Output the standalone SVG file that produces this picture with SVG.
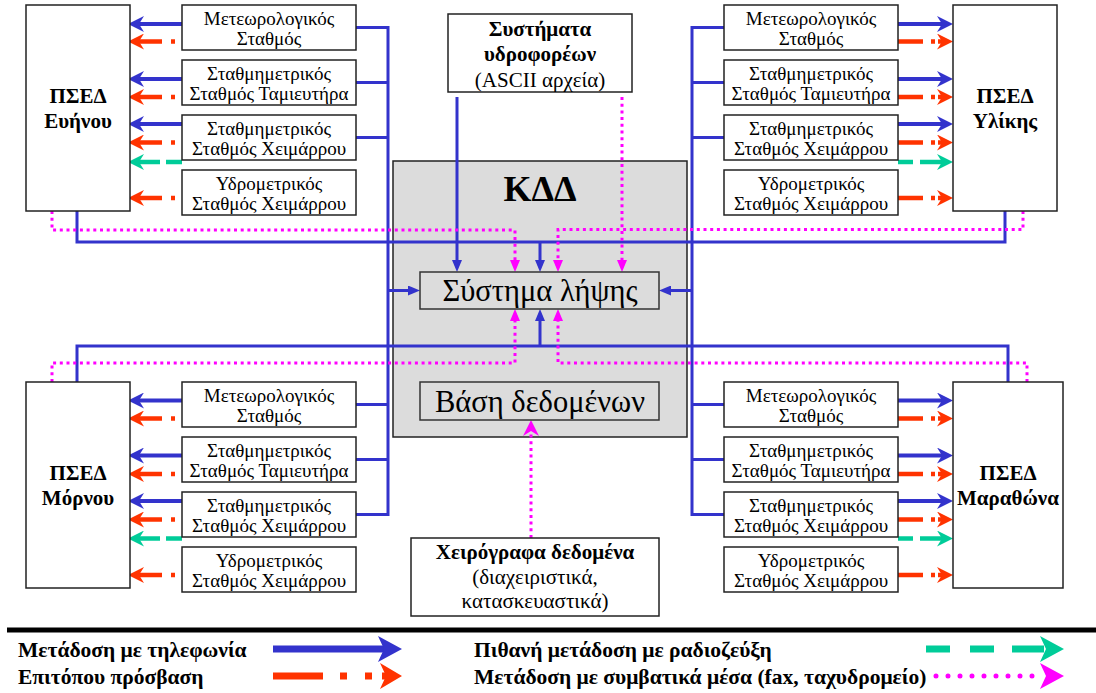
<svg xmlns="http://www.w3.org/2000/svg" width="1096" height="693" viewBox="0 0 1096 693">
<style>
.box{fill:#fff;stroke:#222;stroke-width:1.5}
.kdd{fill:#dcdcdc;stroke:#222;stroke-width:1.5}
.inner{fill:none;stroke:#333;stroke-width:1.5}
.st{font-family:"Liberation Serif","Times New Roman",serif;font-size:19px;fill:#000;text-anchor:middle}
.sx{font-family:"Liberation Serif","Times New Roman",serif;font-size:21px;fill:#000;text-anchor:middle}
.sxb{font-family:"Liberation Serif","Times New Roman",serif;font-size:21px;font-weight:bold;fill:#000;text-anchor:middle}
.ttl{font-family:"Liberation Serif","Times New Roman",serif;font-size:21px;font-weight:bold;fill:#000;text-anchor:middle}
.big{font-family:"Liberation Serif","Times New Roman",serif;font-size:30.5px;fill:#000;text-anchor:middle}
.lg{font-family:"Liberation Serif","Times New Roman",serif;font-size:21.5px;font-weight:bold;fill:#000}
.b{fill:none;stroke:#3333cc;stroke-width:4}
.bus{fill:none;stroke:#3333cc;stroke-width:3}
.r{fill:none;stroke:#ff3300;stroke-width:4.5}
.g{fill:none;stroke:#00cc99;stroke-width:4.5}
.m{fill:none;stroke:#ff00ff;stroke-width:3;stroke-dasharray:3 3.7}
</style>
<defs>
<marker id="hb" viewBox="0 0 16 16" refX="8" refY="8" markerWidth="16" markerHeight="16" markerUnits="userSpaceOnUse" orient="auto"><path d="M0,0 L16,8 L0,16 L5,8 z" fill="#3333cc"/></marker>
<marker id="hr" viewBox="0 0 16 16" refX="8" refY="8" markerWidth="16" markerHeight="16" markerUnits="userSpaceOnUse" orient="auto"><path d="M0,0 L16,8 L0,16 L5,8 z" fill="#ff3300"/></marker>
<marker id="hg" viewBox="0 0 16 16" refX="8" refY="8" markerWidth="16" markerHeight="16" markerUnits="userSpaceOnUse" orient="auto"><path d="M0,0 L16,8 L0,16 L5,8 z" fill="#00cc99"/></marker>
<marker id="hm" viewBox="0 0 16 16" refX="8" refY="8" markerWidth="16" markerHeight="16" markerUnits="userSpaceOnUse" orient="auto"><path d="M0,0 L16,8 L0,16 L5,8 z" fill="#ff00ff"/></marker>
<marker id="sb" viewBox="0 0 12 10" refX="6" refY="5" markerWidth="12" markerHeight="10" markerUnits="userSpaceOnUse" orient="auto"><path d="M0,0 L12,5 L0,10 z" fill="#3333cc"/></marker>
<marker id="sm" viewBox="0 0 12 10" refX="6" refY="5" markerWidth="12" markerHeight="10" markerUnits="userSpaceOnUse" orient="auto"><path d="M0,0 L12,5 L0,10 z" fill="#ff00ff"/></marker>
</defs>

<g id="kdd">
<rect class="kdd" x="393" y="161" width="294" height="276"/>
<text x="540" y="201" font-family="Liberation Serif, Times New Roman, serif" font-size="36" font-weight="bold" text-anchor="middle">ΚΔΔ</text>
</g>

<g id="connectors">
<path class="bus" d="M356,27.5 H388 V514.5 H356 M356,82.5 H388 M356,137.5 H388 M356,404.5 H388 M356,459.5 H388"/>
<path class="bus" d="M724,27.5 H692 V514.5 H724 M724,82.5 H692 M724,137.5 H692 M724,404.5 H692 M724,459.5 H692"/>
<path class="bus" d="M388,290.5 H414" marker-end="url(#sb)"/>
<path class="bus" d="M692,290.5 H665" marker-end="url(#sb)"/>
<path class="bus" d="M77,211 V242 H1005 V211"/>
<path class="bus" d="M77,382 V346 H1008 V382"/>
<path class="bus" d="M540,242 V266" marker-end="url(#sb)"/>
<path class="bus" d="M540,346 V315" marker-end="url(#sb)"/>
<path class="bus" d="M457,97 V266" marker-end="url(#sb)"/>
<path class="m" d="M52,211 V230 H515 V266" marker-end="url(#sm)"/>
<path class="m" d="M1023,211 V229.5 H558 V266" marker-end="url(#sm)"/>
<path class="m" d="M622,97 V266" marker-end="url(#sm)"/>
<path class="m" d="M52,382 V363 H515 V315" marker-end="url(#sm)"/>
<path class="m" d="M1027,382 V363 H558 V315" marker-end="url(#sm)"/>
<path class="m" d="M531,538 V428" marker-end="url(#hm)"/>

<path class="b" d="M182,24 H136" marker-end="url(#hb)"/>
<path class="r" d="M162,41.5 H136" marker-end="url(#hr)"/><path class="r" d="M171,41.5 H175"/>
<path class="b" d="M182,79 H136" marker-end="url(#hb)"/>
<path class="r" d="M162,97 H136" marker-end="url(#hr)"/><path class="r" d="M171,97 H175"/>
<path class="b" d="M182,124 H136" marker-end="url(#hb)"/>
<path class="r" d="M162,142.5 H136" marker-end="url(#hr)"/><path class="r" d="M171,142.5 H175"/>
<path class="g" d="M160,162 H136" marker-end="url(#hg)"/><path class="g" d="M166,162 H182"/>
<path class="r" d="M162,198 H136" marker-end="url(#hr)"/><path class="r" d="M171,198 H175"/>

<path class="b" d="M182,400.5 H136" marker-end="url(#hb)"/>
<path class="r" d="M162,418.5 H136" marker-end="url(#hr)"/><path class="r" d="M171,418.5 H175"/>
<path class="b" d="M182,455.5 H136" marker-end="url(#hb)"/>
<path class="r" d="M162,474 H136" marker-end="url(#hr)"/><path class="r" d="M171,474 H175"/>
<path class="b" d="M182,501 H136" marker-end="url(#hb)"/>
<path class="r" d="M162,519.5 H136" marker-end="url(#hr)"/><path class="r" d="M171,519.5 H175"/>
<path class="g" d="M160,538.5 H136" marker-end="url(#hg)"/><path class="g" d="M166,538.5 H182"/>
<path class="r" d="M162,575 H136" marker-end="url(#hr)"/><path class="r" d="M171,575 H175"/>

<path class="b" d="M898,24 H945" marker-end="url(#hb)"/>
<path class="r" d="M898,41.5 H923 M931,41.5 H935"/><path class="r" d="M938,41.5 H945" marker-end="url(#hr)"/>
<path class="b" d="M898,79 H945" marker-end="url(#hb)"/>
<path class="r" d="M898,97 H923 M931,97 H935"/><path class="r" d="M938,97 H945" marker-end="url(#hr)"/>
<path class="b" d="M898,124 H945" marker-end="url(#hb)"/>
<path class="r" d="M898,142.5 H923 M931,142.5 H935"/><path class="r" d="M938,142.5 H945" marker-end="url(#hr)"/>
<path class="g" d="M898,162 H913"/><path class="g" d="M920,162 H945" marker-end="url(#hg)"/>
<path class="r" d="M898,198 H923 M931,198 H935"/><path class="r" d="M938,198 H945" marker-end="url(#hr)"/>

<path class="b" d="M898,400.5 H945" marker-end="url(#hb)"/>
<path class="r" d="M898,418.5 H923 M931,418.5 H935"/><path class="r" d="M938,418.5 H945" marker-end="url(#hr)"/>
<path class="b" d="M898,455.5 H945" marker-end="url(#hb)"/>
<path class="r" d="M898,474 H923 M931,474 H935"/><path class="r" d="M938,474 H945" marker-end="url(#hr)"/>
<path class="b" d="M898,501 H945" marker-end="url(#hb)"/>
<path class="r" d="M898,519.5 H923 M931,519.5 H935"/><path class="r" d="M938,519.5 H945" marker-end="url(#hr)"/>
<path class="g" d="M898,538.5 H913"/><path class="g" d="M920,538.5 H945" marker-end="url(#hg)"/>
<path class="r" d="M898,575 H923 M931,575 H935"/><path class="r" d="M938,575 H945" marker-end="url(#hr)"/>
</g>

<g id="systima-lipsis">
<rect class="inner" x="420" y="272" width="239" height="37"/>
<text class="big" x="540" y="301">Σύστημα λήψης</text>
</g>
<g id="vasi-dedomenon">
<rect class="inner" x="420" y="382" width="239" height="38"/>
<text class="big" x="540" y="412">Βάση δεδομένων</text>
</g>

<g id="systimata-ydroforeon">
<rect class="box" x="448" y="14" width="184" height="78"/>
<text class="sxb" x="540" y="36">Συστήματα</text>
<text class="sxb" x="540" y="61">υδροφορέων</text>
<text class="sx" x="540" y="87">(ASCII αρχεία)</text>
</g>

<g id="xeirografa">
<rect class="box" x="411" y="538" width="248" height="78"/>
<text class="sxb" x="535" y="559">Χειρόγραφα δεδομένα</text>
<text class="sx" x="535" y="584">(διαχειριστικά,</text>
<text class="sx" x="535" y="608">κατασκευαστικά)</text>
</g>

<g id="psed-evinou">
<rect class="box" x="26" y="5" width="104" height="206"/>
<text class="ttl" x="78" y="103">ΠΣΕΔ</text>
<text class="ttl" x="78" y="128">Ευήνου</text>
</g>
<g id="psed-ylikis">
<rect class="box" x="953" y="5" width="104" height="206"/>
<text class="ttl" x="1005" y="103">ΠΣΕΔ</text>
<text class="ttl" x="1005" y="128">Υλίκης</text>
</g>
<g id="psed-mornou">
<rect class="box" x="26" y="382" width="104" height="206"/>
<text class="ttl" x="78" y="480">ΠΣΕΔ</text>
<text class="ttl" x="78" y="505">Μόρνου</text>
</g>
<g id="psed-marathona">
<rect class="box" x="953" y="382" width="110" height="206"/>
<text class="ttl" x="1008" y="480">ΠΣΕΔ</text>
<text class="ttl" x="1008" y="505">Μαραθώνα</text>
</g>

<g id="ul-meteo"><rect class="box" x="182" y="5" width="174" height="45"/><text class="st" x="269" y="25">Μετεωρολογικός</text><text class="st" x="269" y="45">Σταθμός</text></g>
<g id="ul-tamieutira"><rect class="box" x="182" y="60" width="174" height="45"/><text class="st" x="269" y="80">Σταθμημετρικός</text><text class="st" x="269" y="100">Σταθμός Ταμιευτήρα</text></g>
<g id="ul-xeimarrou"><rect class="box" x="182" y="115" width="174" height="45"/><text class="st" x="269" y="135">Σταθμημετρικός</text><text class="st" x="269" y="155">Σταθμός Χειμάρρου</text></g>
<g id="ul-ydrometrikos"><rect class="box" x="182" y="170" width="174" height="45"/><text class="st" x="269" y="190">Υδρομετρικός</text><text class="st" x="269" y="210">Σταθμός Χειμάρρου</text></g>

<g id="ur-meteo"><rect class="box" x="724" y="5" width="174" height="45"/><text class="st" x="811" y="25">Μετεωρολογικός</text><text class="st" x="811" y="45">Σταθμός</text></g>
<g id="ur-tamieutira"><rect class="box" x="724" y="60" width="174" height="45"/><text class="st" x="811" y="80">Σταθμημετρικός</text><text class="st" x="811" y="100">Σταθμός Ταμιευτήρα</text></g>
<g id="ur-xeimarrou"><rect class="box" x="724" y="115" width="174" height="45"/><text class="st" x="811" y="135">Σταθμημετρικός</text><text class="st" x="811" y="155">Σταθμός Χειμάρρου</text></g>
<g id="ur-ydrometrikos"><rect class="box" x="724" y="170" width="174" height="45"/><text class="st" x="811" y="190">Υδρομετρικός</text><text class="st" x="811" y="210">Σταθμός Χειμάρρου</text></g>

<g id="ll-meteo"><rect class="box" x="182" y="382" width="174" height="45"/><text class="st" x="269" y="402">Μετεωρολογικός</text><text class="st" x="269" y="422">Σταθμός</text></g>
<g id="ll-tamieutira"><rect class="box" x="182" y="437" width="174" height="45"/><text class="st" x="269" y="457">Σταθμημετρικός</text><text class="st" x="269" y="477">Σταθμός Ταμιευτήρα</text></g>
<g id="ll-xeimarrou"><rect class="box" x="182" y="492" width="174" height="45"/><text class="st" x="269" y="512">Σταθμημετρικός</text><text class="st" x="269" y="532">Σταθμός Χειμάρρου</text></g>
<g id="ll-ydrometrikos"><rect class="box" x="182" y="547" width="174" height="45"/><text class="st" x="269" y="567">Υδρομετρικός</text><text class="st" x="269" y="587">Σταθμός Χειμάρρου</text></g>

<g id="lr-meteo"><rect class="box" x="724" y="382" width="174" height="45"/><text class="st" x="811" y="402">Μετεωρολογικός</text><text class="st" x="811" y="422">Σταθμός</text></g>
<g id="lr-tamieutira"><rect class="box" x="724" y="437" width="174" height="45"/><text class="st" x="811" y="457">Σταθμημετρικός</text><text class="st" x="811" y="477">Σταθμός Ταμιευτήρα</text></g>
<g id="lr-xeimarrou"><rect class="box" x="724" y="492" width="174" height="45"/><text class="st" x="811" y="512">Σταθμημετρικός</text><text class="st" x="811" y="532">Σταθμός Χειμάρρου</text></g>
<g id="lr-ydrometrikos"><rect class="box" x="724" y="547" width="174" height="45"/><text class="st" x="811" y="567">Υδρομετρικός</text><text class="st" x="811" y="587">Σταθμός Χειμάρρου</text></g>

<g id="legend">
<line x1="7" y1="630" x2="1096" y2="630" stroke="#000" stroke-width="5"/>
<text class="lg" x="18" y="657">Μετάδοση με τηλεφωνία</text>
<text class="lg" x="18" y="684">Επιτόπου πρόσβαση</text>
<text class="lg" x="474" y="657">Πιθανή μετάδοση με ραδιοζεύξη</text>
<text class="lg" x="474" y="684">Μετάδοση με συμβατικά μέσα (fax, ταχυδρομείο)</text>
<path d="M273,649 H386" stroke="#3333cc" stroke-width="7" fill="none"/>
<polygon points="378,636 402,649 378,662 384,649" fill="#3333cc"/>
<path d="M273,676 H323 M340,676 H347 M365,676 H372 M382,676 H388" stroke="#ff3300" stroke-width="7" fill="none"/>
<polygon points="380,663 402,676 380,689 386,676" fill="#ff3300"/>
<path d="M926,649 H950 M970,649 H994 M1012,649 H1044" stroke="#00cc99" stroke-width="7" fill="none"/>
<polygon points="1040,636 1064,649 1040,662 1046,649" fill="#00cc99"/>
<path d="M936,676 H1040" stroke="#ff00ff" stroke-width="5" stroke-dasharray="0 12" stroke-linecap="round" fill="none"/>
<polygon points="1040,663 1064,676 1040,689 1046,676" fill="#ff00ff"/>
</g>
</svg>
